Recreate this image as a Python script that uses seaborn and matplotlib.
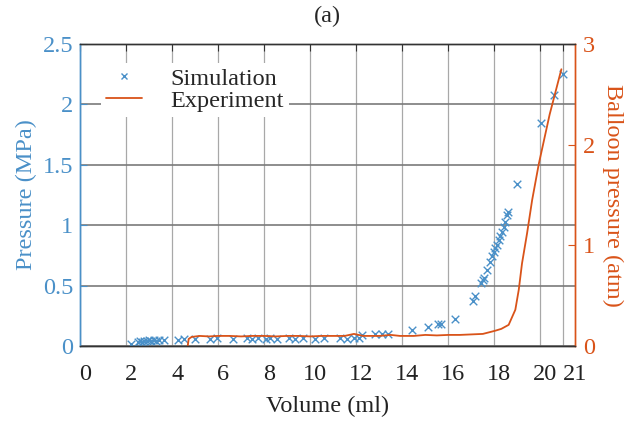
import pandas as pd
import matplotlib
matplotlib.use("Agg")
import matplotlib.pyplot as plt
import matplotlib.transforms as mtransforms
import seaborn as sns
from matplotlib.lines import Line2D

# Simulation: volume (ml) vs pressure (MPa)
sim_volume = [2.2, 2.5, 2.6, 2.7, 2.8, 2.9, 3.0, 3.1, 3.2, 3.3, 3.45, 3.65,
              4.25, 4.5, 5.0, 5.65, 5.95, 6.65, 7.25, 7.45, 7.75, 8.1, 8.25,
              8.55, 9.1, 9.35, 9.7, 10.2, 10.6, 11.3, 11.6, 11.9, 12.1, 12.25,
              12.8, 13.1, 13.4, 14.4, 15.1, 15.55, 15.7, 16.3, 17.05, 17.15,
              17.43, 17.51, 17.57, 17.68, 17.8, 17.9, 17.97, 18.04, 18.12,
              18.19, 18.26, 18.33, 18.41, 18.48, 18.55, 18.58, 19.0, 20.04,
              20.57, 21.0]
sim_pressure = [0.02, 0.03, 0.04, 0.035, 0.045, 0.04, 0.05, 0.045, 0.05, 0.045,
                0.05, 0.05, 0.05, 0.06, 0.06, 0.06, 0.065, 0.06, 0.065, 0.06,
                0.065, 0.06, 0.065, 0.06, 0.065, 0.06, 0.065, 0.06, 0.065,
                0.065, 0.06, 0.07, 0.065, 0.09, 0.1, 0.1, 0.1, 0.13, 0.155,
                0.18, 0.18, 0.22, 0.375, 0.41, 0.524, 0.546, 0.566, 0.629,
                0.698, 0.745, 0.781, 0.808, 0.836, 0.877, 0.911, 0.946, 0.988,
                1.029, 1.084, 1.112, 1.34, 1.85, 2.08, 2.25]

# Experiment: volume (ml) vs balloon pressure (atm)
exp_volume = [4.68, 4.72, 4.85, 5.2, 5.6, 6.0, 6.5, 7.0, 7.5, 8.0, 8.5, 9.0,
              9.5, 10.0, 10.5, 11.0, 11.5, 11.9, 12.3, 13.0, 13.5, 13.9, 14.5,
              15.0, 15.5, 16.0, 16.5, 17.0, 17.5, 18.01, 18.3, 18.62, 18.91,
              19.06, 19.2, 19.42, 19.64, 19.93, 20.4, 20.91]
exp_pressure = [0.0, 0.07, 0.09, 0.1, 0.095, 0.1, 0.1, 0.095, 0.1, 0.1, 0.095,
                0.1, 0.1, 0.095, 0.1, 0.1, 0.1, 0.12, 0.1, 0.1, 0.11, 0.1, 0.1,
                0.11, 0.105, 0.11, 0.11, 0.115, 0.12, 0.15, 0.17, 0.21, 0.36,
                0.56, 0.82, 1.12, 1.45, 1.81, 2.3, 2.75]

x_ticks = [0, 2, 4, 6, 8, 10, 12, 14, 16, 18, 20, 21]

blue = "#4A90C8"
orange = "#D95319"
fs = 17.5

sns.set_style("white")
plt.rcParams['font.family'] = ['Liberation Serif', 'DejaVu Serif']

sim_df = pd.DataFrame({"volume": sim_volume, "pressure": sim_pressure})
exp_df = pd.DataFrame({"volume": exp_volume, "pressure": exp_pressure})

fig = plt.figure(figsize=(6.37, 4.24), dpi=100)
ax = fig.add_axes([0.1256, 0.184, 0.777, 0.712])

ax.set_xlim(0, 21.5)
ax.set_ylim(0, 2.5)
ax.set_xticks(x_ticks)
ax.set_yticks([0, 0.5, 1, 1.5, 2, 2.5])
ax.set_yticklabels(["0", "0.5", "1", "1.5", "2", "2.5"])
ax.grid(axis='y', color='#7a7a7a', linewidth=1.2)
ax.grid(axis='x', color='#a8a8a8', linewidth=0.9)
ax.set_axisbelow(True)

sns.scatterplot(data=sim_df, x="volume", y="pressure", marker="x", color=blue,
                s=30, linewidth=1.0, ax=ax, zorder=3)

ax2 = ax.twinx()
sns.lineplot(data=exp_df, x="volume", y="pressure", color=orange,
             linewidth=1.3, ax=ax2, sort=False)
ax2.set_ylim(0, 3)
ax2.set_yticks([0, 1, 2, 3])

ax.set_xlabel("Volume (ml)", fontsize=fs, color='#222222', labelpad=8)
ax.set_ylabel("Pressure (MPa)", fontsize=fs, color=blue, labelpad=4)
ax2.set_ylabel("Balloon pressure (atm)", fontsize=fs, color=orange,
               rotation=270, labelpad=20)
ax2.set_xlabel("")

ax.tick_params(axis='x', direction='in', top=True, length=5, color='#333333',
               labelsize=fs, labelcolor='#222222', pad=13)
ax.tick_params(axis='y', direction='in', left=True, right=False, length=5,
               color=blue, labelsize=fs, labelcolor=blue, pad=5)
ax2.tick_params(axis='y', direction='in', right=True, length=5, color=orange,
                labelsize=fs, labelcolor=orange, pad=6)

# nudge x tick labels slightly right, as in the original figure
for tick_val, lbl in zip(x_ticks, ax.get_xticklabels()):
    dx = 12 if tick_val == 21 else 5
    off = mtransforms.ScaledTranslation(dx / 100, 0, fig.dpi_scale_trans)
    lbl.set_transform(lbl.get_transform() + off)

for a in (ax, ax2):
    a.spines['top'].set_color('#333333')
    a.spines['bottom'].set_color('#333333')
    a.spines['left'].set_color(blue)
    a.spines['right'].set_color(orange)
    for s in a.spines.values():
        s.set_linewidth(1.0)

ax.set_title("(a)", fontsize=fs, pad=16)

handles = [
    Line2D([], [], marker='x', color=blue, linestyle='none', markersize=5,
           markeredgewidth=1.0),
    Line2D([], [], color=orange, linewidth=1.3),
]
leg = ax2.legend(handles, ["Simulation", "Experiment"], loc='upper left',
                 bbox_to_anchor=(0.018, 0.978), fontsize=fs, frameon=True,
                 facecolor='white', edgecolor='none', framealpha=1,
                 labelspacing=0.0, handlelength=1.5, handletextpad=1.15,
                 borderpad=0.2, fancybox=False)

plt.savefig("out.png", dpi=100)
